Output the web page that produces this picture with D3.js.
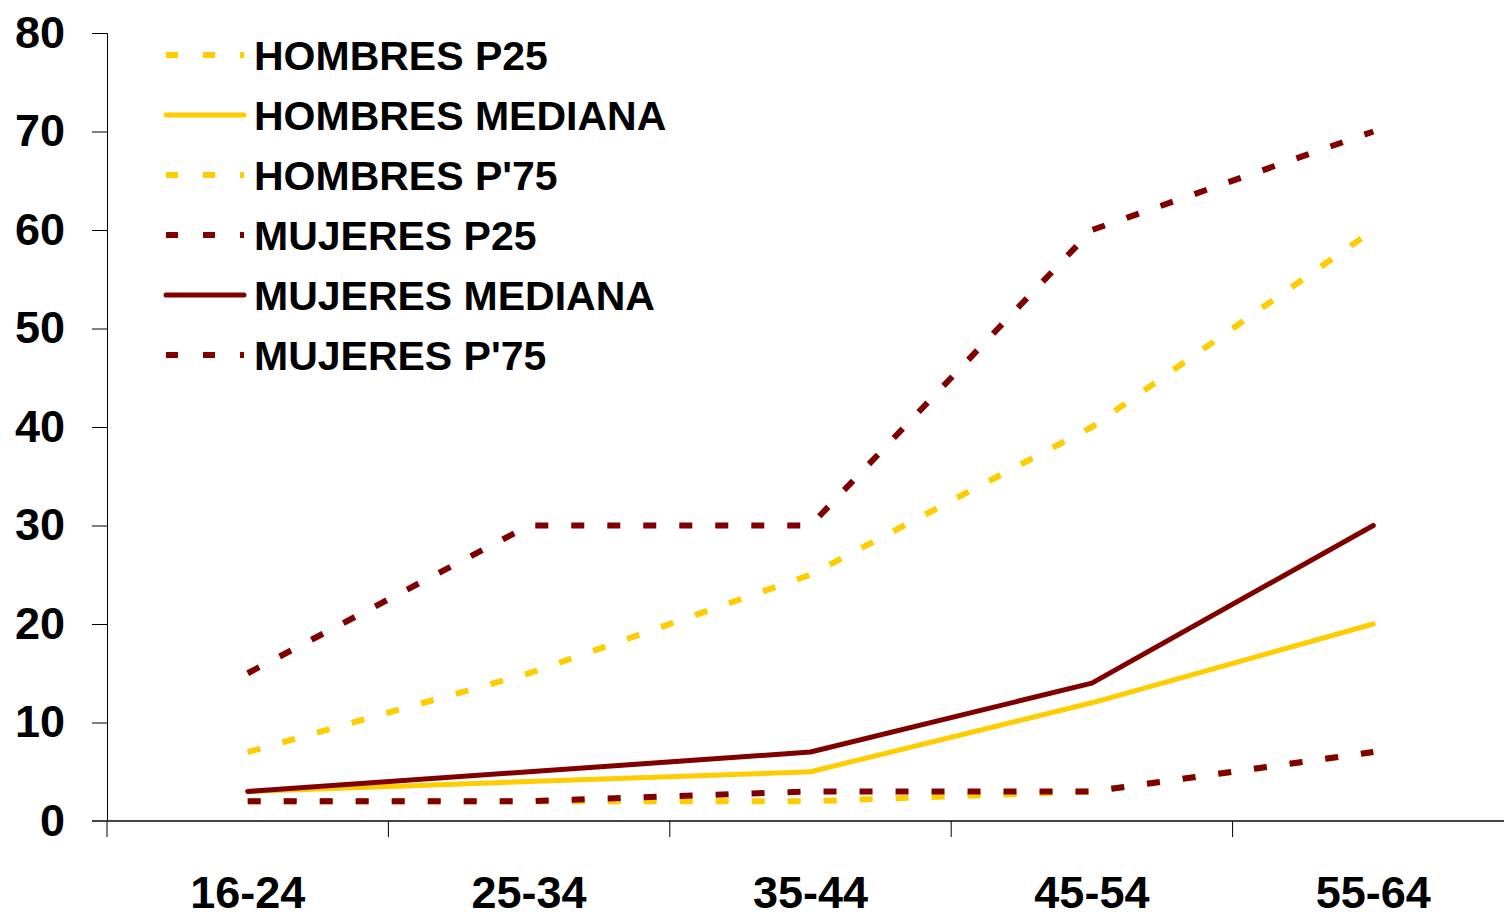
<!DOCTYPE html>
<html>
<head>
<meta charset="utf-8">
<script src="https://cdn.jsdelivr.net/npm/d3@7/dist/d3.min.js"></script>
<style>
  html, body { margin: 0; padding: 0; background: #fff; }
  svg { display: block; font-family: "Liberation Sans", Arial, sans-serif; }
</style>
</head>
<body>
<div id="chart"></div>
<script>
// categorías (grupos de edad)
const categories = ['16-24', '25-34', '35-44', '45-54', '55-64'];

// series
const hombresP25 = [2, 2, 2, 3, 7];
const hombresMediana = [3, 4, 5, 12, 20];
const hombresP75 = [7, 15, 25, 40, 60];
const mujeresP25 = [2, 2, 3, 3, 7];
const mujeresMediana = [3, 5, 7, 14, 30];
const mujeresP75 = [15, 30, 30, 60, 70];

const yTicks = [0, 10, 20, 30, 40, 50, 60, 70, 80];

const series = [
    { name: 'HOMBRES P25', values: hombresP25, color: '#FFCC00', dashed: true },
    { name: 'HOMBRES MEDIANA', values: hombresMediana, color: '#FFCC00', dashed: false },
    { name: "HOMBRES P'75", values: hombresP75, color: '#FFCC00', dashed: true },
    { name: 'MUJERES P25', values: mujeresP25, color: '#800000', dashed: true },
    { name: 'MUJERES MEDIANA', values: mujeresMediana, color: '#800000', dashed: false },
    { name: "MUJERES P'75", values: mujeresP75, color: '#800000', dashed: true }
];

const width = 1504, height = 912;
const margin = { left: 107, top: 33, right: -10, bottom: 91 };

const svg = d3.select('#chart')
    .append('svg')
    .attr('width', width)
    .attr('height', height);

const x = d3.scaleBand()
    .domain(categories)
    .range([margin.left, width - margin.right]);

const y = d3.scaleLinear()
    .domain([0, 80])
    .range([height - margin.bottom, margin.top]);

// Eje Y
const yAxis = svg.append('g')
    .attr('transform', `translate(${margin.left},0)`)
    .call(d3.axisLeft(y).tickValues(yTicks).tickSize(15).tickPadding(27));
yAxis.select('.domain').attr('stroke', '#000').attr('stroke-width', 1);
yAxis.selectAll('.tick line').attr('stroke', '#000');
yAxis.selectAll('text')
    .attr('font-size', 45)
    .attr('font-weight', 'bold')
    .attr('fill', '#000')
    .attr('font-family', '"Liberation Sans", Arial, sans-serif');

// Eje X
const xTickPos = categories.map(c => x(c)).concat([x.range()[1]]);
const xAxisG = svg.append('g')
    .attr('transform', `translate(0,${y(0)})`);
xAxisG.append('line')
    .attr('x1', margin.left - 15)
    .attr('x2', width)
    .attr('stroke', '#444')
    .attr('stroke-width', 2);
xAxisG.selectAll('line.tick')
    .data(xTickPos)
    .join('line')
    .attr('class', 'tick')
    .attr('x1', d => d).attr('x2', d => d)
    .attr('y1', 0).attr('y2', 16)
    .attr('stroke', '#000');
xAxisG.selectAll('text')
    .data(categories)
    .join('text')
    .attr('x', d => x(d) + x.bandwidth() / 2)
    .attr('y', 87)
    .attr('text-anchor', 'middle')
    .attr('font-size', 45)
    .attr('font-weight', 'bold')
    .text(d => d);

// Líneas
const line = d3.line()
    .x((d, i) => x(categories[i]) + x.bandwidth() / 2)
    .y(d => y(d));

svg.append('g')
    .selectAll('path')
    .data(series)
    .join('path')
    .attr('d', d => line(d.values))
    .attr('fill', 'none')
    .attr('stroke', d => d.color)
    .attr('stroke-width', d => d.dashed ? 6 : 5)
    .attr('stroke-dasharray', d => d.dashed ? '13,23' : null)
    .attr('stroke-linecap', d => d.dashed ? 'butt' : 'round')
    .attr('stroke-linejoin', 'round');

// Leyenda
const legend = svg.append('g')
    .selectAll('g')
    .data(series)
    .join('g')
    .attr('transform', (d, i) => `translate(166,${55 + i * 60})`);

legend.append('line')
    .attr('x1', 0).attr('x2', 78)
    .attr('stroke', d => d.color)
    .attr('stroke-width', d => d.dashed ? 6 : 5)
    .attr('stroke-dasharray', d => d.dashed ? '12,25' : null)
    .attr('stroke-linecap', d => d.dashed ? 'butt' : 'round');

legend.append('text')
    .attr('x', 88)
    .attr('y', 0)
    .attr('dy', '0.36em')
    .attr('font-size', 41)
    .attr('font-weight', 'bold')
    .text(d => d.name);
</script>
</body>
</html>
